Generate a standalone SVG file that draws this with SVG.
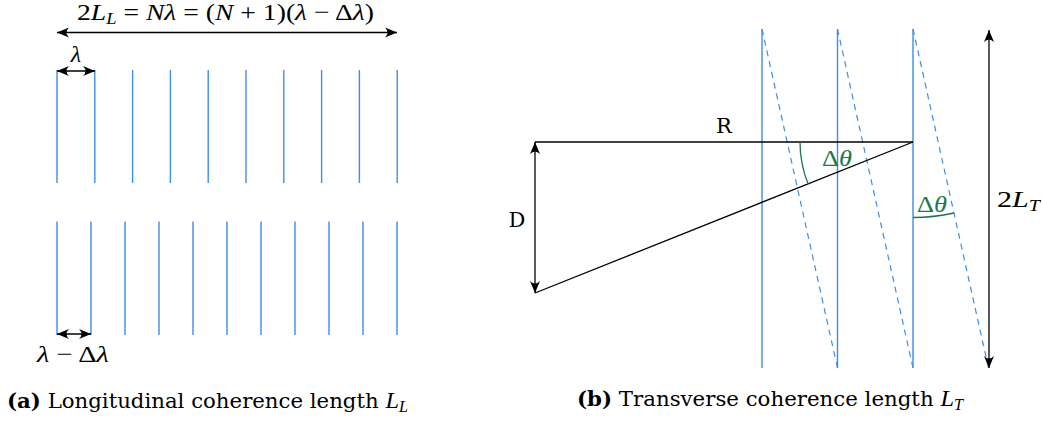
<svg xmlns="http://www.w3.org/2000/svg" width="1043" height="423" viewBox="0 0 1043 423">
<style>
text{font-family:"Liberation Serif","DejaVu Serif",serif;font-size:24px;fill:#000}
.t{font-family:"DejaVu Serif","Liberation Serif",serif;font-size:21px}
.tm{font-family:"Liberation Serif",serif;font-size:24px;font-style:italic}
.m{font-style:italic}
.sub{font-size:16px;font-style:italic}
.blue{stroke:#3d8ee6;stroke-width:1.4;fill:none}
.dash{stroke:#3d8ee6;stroke-width:1.2;stroke-dasharray:6,5;fill:none}
.blk{stroke:#000;stroke-width:1.3;fill:none}
.arr{stroke:#000;stroke-width:1.3;fill:none;marker-start:url(#ah);marker-end:url(#ah)}
.green{stroke:#1a7a4c;stroke-width:1.3;fill:none}
.gt{fill:#1a7a4c}
.b{font-weight:bold}
</style>
<defs>
<marker id="ah" viewBox="-12 -6 13 12" refX="0" refY="0" markerWidth="13" markerHeight="12" markerUnits="userSpaceOnUse" orient="auto-start-reverse">
<path d="M0,0 L-12,-5 Q-7,0 -12,5 Z" fill="#000"/>
</marker>
</defs>

<g id="panel-a">
<g id="top-waves">
<line class="blue" x1="57" y1="70" x2="57" y2="183"/>
<line class="blue" x1="94.8" y1="70" x2="94.8" y2="183"/>
<line class="blue" x1="132.6" y1="70" x2="132.6" y2="183"/>
<line class="blue" x1="170.4" y1="70" x2="170.4" y2="183"/>
<line class="blue" x1="208.2" y1="70" x2="208.2" y2="183"/>
<line class="blue" x1="246" y1="70" x2="246" y2="183"/>
<line class="blue" x1="283.8" y1="70" x2="283.8" y2="183"/>
<line class="blue" x1="321.6" y1="70" x2="321.6" y2="183"/>
<line class="blue" x1="359.4" y1="70" x2="359.4" y2="183"/>
<line class="blue" x1="397.2" y1="70" x2="397.2" y2="183"/>
</g>
<g id="bottom-waves">
<line class="blue" x1="57" y1="221.5" x2="57" y2="335"/>
<line class="blue" x1="91" y1="221.5" x2="91" y2="335"/>
<line class="blue" x1="125" y1="221.5" x2="125" y2="335"/>
<line class="blue" x1="159" y1="221.5" x2="159" y2="335"/>
<line class="blue" x1="193" y1="221.5" x2="193" y2="335"/>
<line class="blue" x1="227" y1="221.5" x2="227" y2="335"/>
<line class="blue" x1="261" y1="221.5" x2="261" y2="335"/>
<line class="blue" x1="295" y1="221.5" x2="295" y2="335"/>
<line class="blue" x1="329" y1="221.5" x2="329" y2="335"/>
<line class="blue" x1="363" y1="221.5" x2="363" y2="335"/>
<line class="blue" x1="397" y1="221.5" x2="397" y2="335"/>
</g>
<g id="connectors-a">
<line class="arr" x1="57" y1="32.5" x2="397" y2="32.5"/>
<line class="arr" x1="57" y1="71" x2="95" y2="71"/>
<line class="arr" x1="57" y1="334" x2="91" y2="334"/>
</g>
<text x="77" y="20" textLength="297" lengthAdjust="spacingAndGlyphs">2<tspan class="m">L</tspan><tspan class="sub" dy="4">L</tspan><tspan dy="-4"> = </tspan><tspan class="m">Nλ</tspan> = (<tspan class="m">N</tspan> + 1)(<tspan class="m">λ</tspan> − Δ<tspan class="m">λ</tspan>)</text>
<text class="m" x="76" y="62" text-anchor="middle">λ</text>
<text x="37" y="362" textLength="72" lengthAdjust="spacingAndGlyphs"><tspan class="m">λ</tspan> − Δ<tspan class="m">λ</tspan></text>
<text class="t" x="7" y="408" textLength="401" lengthAdjust="spacingAndGlyphs"><tspan class="b">(a)</tspan> Longitudinal coherence length <tspan class="tm">L</tspan><tspan class="sub" font-family="Liberation Serif" dy="4">L</tspan></text>
</g>

<g id="panel-b">
<g id="wavefronts">
<line class="blue" x1="762" y1="29" x2="762" y2="368"/>
<line class="blue" x1="837.5" y1="29" x2="837.5" y2="368"/>
<line class="blue" x1="913" y1="29" x2="913" y2="368"/>
<line class="dash" x1="762" y1="29" x2="837.5" y2="368"/>
<line class="dash" x1="837.5" y1="29" x2="913" y2="368"/>
<line class="dash" x1="913" y1="29" x2="988.5" y2="368"/>
</g>
<g id="connectors-b">
<line class="blk" x1="535" y1="142" x2="913" y2="142"/>
<line class="blk" x1="913" y1="142" x2="535" y2="293"/>
<line class="arr" x1="535" y1="142" x2="535" y2="293"/>
<line class="arr" x1="989" y1="30" x2="989" y2="368"/>
<path class="green" d="M800,142 A113,113 0 0 0 808.1,184"/>
<path class="green" d="M913,217.5 A188.5,188.5 0 0 0 953.9,213"/>
</g>
<text class="t" x="724" y="133" text-anchor="middle">R</text>
<text class="t" x="517" y="227" text-anchor="middle">D</text>
<text x="822" y="166" textLength="30" lengthAdjust="spacingAndGlyphs" class="gt">Δ<tspan class="m">θ</tspan></text>
<text x="917" y="212" textLength="30" lengthAdjust="spacingAndGlyphs" class="gt">Δ<tspan class="m">θ</tspan></text>
<text x="997" y="207" textLength="43" lengthAdjust="spacingAndGlyphs">2<tspan class="m">L</tspan><tspan class="sub" dy="4">T</tspan></text>
<text class="t" x="577" y="406" textLength="386" lengthAdjust="spacingAndGlyphs"><tspan class="b">(b)</tspan> Transverse coherence length <tspan class="tm">L</tspan><tspan class="sub" font-family="Liberation Serif" dy="4">T</tspan></text>
</g>
</svg>
